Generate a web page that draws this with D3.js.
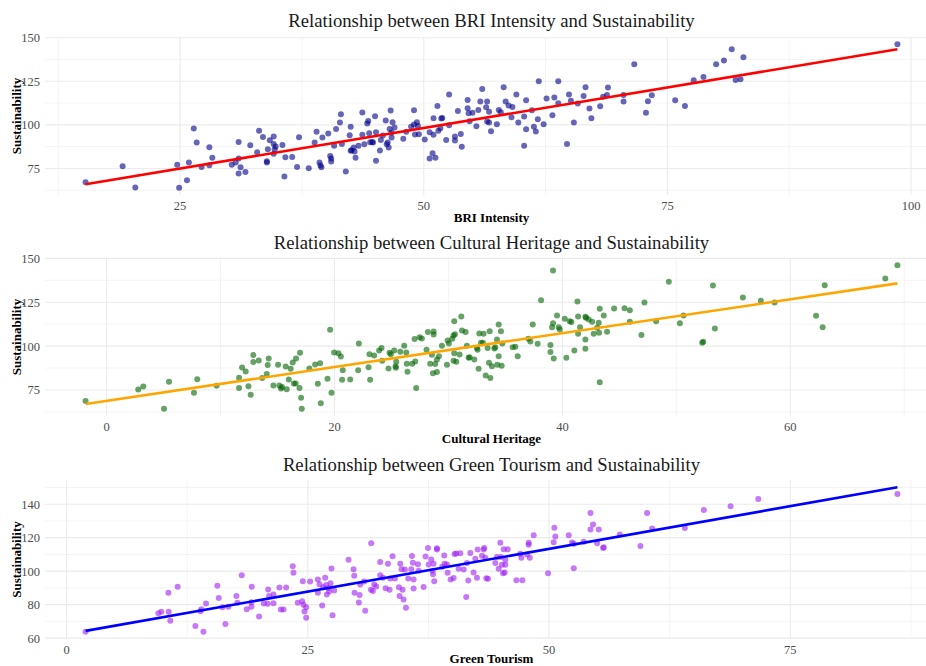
<!DOCTYPE html>
<html>
<head>
<meta charset="utf-8">
<script src="https://cdn.jsdelivr.net/npm/d3@7"></script>
<style>
  body { margin: 0; background: #fff; }
  svg { display: block; }
  text { font-family: "Liberation Serif", "Times New Roman", serif; }
</style>
</head>
<body>
<svg id="chart" width="926" height="666"></svg>
<script>
// Points: [x, sustainability]
const briPoints = [
  [15.3,67.1],[19.1,76.3],[20.4,64.1],[24.7,77.2],[24.9,63.9],[25.7,68.3],[25.9,78.4],[26.4,97.9],[26.7,89.9],[27.2,75.9],
  [28.0,87.2],[28.0,76.9],[28.3,81.1],[30.3,77.1],[30.7,78.4],[31.0,90.2],[31.0,80.7],[31.0,72.1],[31.2,75.7],[31.7,73.0],
  [32.2,88.3],[32.9,84.3],[33.1,96.6],[33.5,93.1],[33.9,79.2],[33.9,78.4],[34.0,86.0],[34.2,91.2],[34.6,93.3],[34.6,89.1],
  [34.6,83.4],[34.7,86.0],[34.8,87.6],[35.5,88.5],[35.7,70.4],[35.8,81.5],[36.5,81.6],[37.0,75.9],[37.2,92.9],[38.2,75.1],
  [38.8,89.9],[39.0,96.0],[39.3,78.4],[39.4,76.7],[39.5,75.7],[39.6,92.7],[40.2,95.0],[40.4,82.2],[40.5,80.7],[40.5,79.0],
  [40.8,88.0],[41.0,97.7],[41.4,101.3],[41.5,106.1],[41.6,89.1],[42.0,73.2],[42.4,94.1],[42.5,98.9],[42.5,85.1],[42.6,85.5],
  [42.8,87.0],[42.9,84.7],[43.0,81.1],[43.3,88.0],[43.7,107.1],[43.7,94.3],[43.9,88.9],[44.2,100.8],[44.3,102.3],[44.4,95.2],
  [44.5,90.1],[44.7,90.2],[44.8,89.9],[45.0,105.0],[45.1,95.8],[45.1,79.4],[45.5,85.3],[45.6,91.4],[45.8,93.9],[46.1,102.5],
  [46.2,88.9],[46.3,89.9],[46.4,87.0],[46.5,97.7],[46.6,108.2],[46.7,92.7],[46.7,95.6],[46.8,101.5],[47.0,98.5],[47.9,92.0],
  [48.2,96.0],[48.7,99.0],[49.0,100.2],[49.0,108.4],[49.1,94.5],[49.3,101.5],[49.4,99.4],[49.5,94.6],[50.1,91.6],[50.6,80.7],
  [50.6,95.8],[50.9,83.7],[51.0,94.3],[51.2,81.1],[51.0,103.8],[51.4,110.9],[51.5,96.7],[51.7,98.1],[51.8,103.6],[51.9,104.0],
  [52.3,91.4],[52.6,99.8],[52.6,117.4],[53.2,93.3],[53.2,91.0],[53.5,108.0],[53.8,94.8],[53.9,87.4],[54.5,114.3],[54.5,109.6],
  [54.6,106.7],[54.7,102.1],[55.0,106.9],[55.4,99.2],[55.6,108.6],[55.8,113.4],[56.0,120.6],[56.4,110.1],[56.5,113.4],[56.7,107.5],
  [56.5,101.9],[56.7,101.3],[56.9,96.4],[57.5,100.4],[57.7,108.6],[57.9,107.3],[58.2,121.6],[58.4,113.4],[58.7,111.1],[59.0,104.4],
  [59.1,110.3],[59.5,117.4],[59.7,101.3],[60.3,104.8],[60.3,88.1],[60.5,114.1],[60.5,97.5],[61.1,108.4],[61.3,99.0],[61.5,96.2],
  [61.7,103.2],[61.8,125.0],[62.3,100.4],[62.6,115.1],[63.2,105.5],[63.4,115.7],[63.8,125.0],[63.8,112.4],[64.7,89.1],[64.9,117.4],
  [65.1,113.8],[65.4,101.3],[65.8,112.2],[66.4,116.6],[66.6,121.6],[67.0,109.4],[67.2,103.8],[68.1,110.7],[68.4,116.1],[68.8,117.2],
  [68.9,121.4],[70.5,117.2],[70.5,113.4],[71.6,134.8],[72.8,106.9],[73.0,113.6],[73.4,117.0],[75.8,114.1],[76.8,110.9],[77.7,125.6],
  [78.7,127.5],[80.0,134.8],[80.8,136.9],[81.6,143.4],[82.0,125.8],[82.5,126.2],[82.8,138.8],[98.6,146.3]
];

const heritagePoints = [
  [-1.84,68.7],[2.78,75.3],[3.22,77.0],[5.04,64.3],[5.48,79.7],[7.67,73.4],[7.96,81.2],[9.66,77.4],[11.63,82.0],[11.63,76.1],
  [11.89,87.9],[12.21,85.6],[12.45,77.2],[12.65,72.3],[12.88,94.9],[12.88,90.9],[13.35,91.8],[13.65,81.8],[14.06,84.1],[14.14,89.2],
  [14.23,93.0],[14.64,77.6],[15.05,89.4],[15.17,77.6],[15.31,75.9],[15.4,76.7],[15.72,88.4],[15.81,75.5],[15.99,81.0],[16.16,87.1],
  [16.34,90.7],[16.43,78.7],[16.6,78.7],[16.63,93.0],[16.93,76.1],[16.98,96.2],[17.07,70.6],[17.13,64.3],[17.8,87.3],[18.3,89.6],
  [18.54,78.6],[18.8,67.4],[18.74,90.3],[19.39,81.4],[19.62,109.3],[19.74,73.4],[19.97,96.4],[20.35,96.0],[20.56,94.1],[20.73,86.2],
  [20.67,80.8],[21.38,81.0],[22.08,86.2],[22.14,101.5],[22.99,88.0],[23.07,95.4],[23.13,80.8],[23.48,94.7],[23.92,97.5],[24.13,98.9],
  [24.19,91.7],[24.74,87.3],[24.83,96.2],[24.95,95.4],[25.24,97.5],[25.42,91.1],[25.36,88.6],[25.39,87.7],[25.77,96.8],[26.12,100.2],
  [26.3,96.4],[26.35,90.0],[26.41,85.4],[26.82,90.0],[27.03,104.0],[27.09,91.3],[27.17,76.1],[27.47,105.0],[27.67,104.4],[28.08,97.9],
  [28.2,108.0],[28.4,90.0],[28.55,95.1],[28.64,84.6],[28.7,108.3],[28.7,106.6],[28.84,89.8],[28.99,85.2],[28.99,92.4],[29.17,94.3],
  [29.43,100.2],[29.87,89.4],[29.93,103.2],[30.04,101.5],[30.34,104.2],[30.45,106.1],[30.51,114.2],[30.57,106.8],[30.51,96.0],[30.45,91.7],
  [30.69,91.1],[30.98,95.3],[31.13,116.9],[31.19,108.9],[31.51,108.0],[31.62,100.2],[31.77,93.4],[31.86,93.7],[32.27,92.4],[32.65,87.1],
  [32.71,107.2],[33.09,107.0],[32.5,99.0],[32.56,97.9],[32.86,101.9],[33.03,101.9],[33.44,99.0],[33.62,108.5],[34.03,98.7],[34.11,99.4],
  [34.26,103.8],[34.41,112.3],[34.61,108.5],[34.73,101.5],[33.56,90.5],[33.82,88.6],[34.29,89.4],[34.67,88.8],[33.27,83.3],[33.68,81.8],
  [34.41,94.3],[35.64,99.4],[35.87,99.6],[36.08,94.3],[37.01,104.2],[37.19,102.7],[37.4,112.3],[37.83,101.3],[38.13,126.2],[38.95,100.6],
  [38.95,96.6],[39.18,143.1],[39.09,110.8],[39.18,113.1],[39.24,93.0],[39.53,117.5],[39.68,110.8],[39.77,109.5],[40.21,115.6],[40.35,93.4],
  [40.64,114.2],[40.79,113.7],[41.05,97.5],[41.32,125.4],[41.38,116.9],[41.38,107.0],[41.55,110.8],[42.02,116.7],[42.08,116.1],[42.02,103.8],
  [42.02,98.5],[42.31,115.2],[42.61,113.9],[42.75,107.0],[43.05,110.4],[43.19,113.3],[43.28,121.3],[43.22,107.6],[43.63,117.5],[43.28,79.5],
  [43.92,108.2],[44.54,121.4],[45.45,121.6],[45.92,120.5],[45.92,113.9],[46.94,106.3],[47.2,124.9],[48.23,114.2],[49.34,136.6],[50.31,113.1],
  [50.63,117.5],[52.27,101.9],[52.36,102.5],[53.21,134.5],[53.38,110.1],[55.84,127.7],[57.42,125.8],[58.62,124.9],[62.26,117.3],[62.84,110.8],
  [63.02,134.7],[68.34,138.5],[69.4,146.1]
];

const greenPoints = [
  [1.97,63.8],[9.51,74.9],[9.82,75.7],[10.55,87.1],[10.58,75.7],[10.75,70.4],[11.51,90.7],[13.35,67.2],[13.87,76.1],[13.97,77.3],
  [14.18,63.8],[14.45,80.7],[15.63,91.3],[15.77,83.9],[16.15,78.5],[16.46,68.4],[16.77,78.7],[17.6,85.1],[17.7,81.1],[18.15,97.6],
  [18.67,77.3],[19.16,81.5],[19.19,90.7],[19.16,78.7],[19.95,72.9],[20.44,80.7],[20.85,80.5],[20.89,89.1],[20.99,85.1],[21.44,86.1],
  [21.44,80.9],[22.06,90.3],[22.2,77.1],[22.48,77.1],[22.75,90.3],[23.44,103.0],[23.51,99.0],[23.96,81.1],[24.41,82.1],[24.48,94.0],
  [24.55,79.9],[24.65,75.9],[24.83,72.2],[24.83,78.5],[25.24,93.8],[26.04,95.0],[26.04,87.1],[26.21,92.2],[26.49,79.5],[26.59,90.4],
  [26.8,96.0],[26.9,91.8],[26.97,86.1],[27.11,90.0],[27.21,87.9],[27.35,92.8],[27.45,101.6],[27.56,73.6],[27.73,88.5],[29.22,106.8],
  [29.74,101.2],[29.81,97.2],[29.84,87.1],[30.29,81.3],[30.36,85.7],[30.43,92.1],[30.84,93.8],[30.95,76.3],[31.57,116.7],[31.54,88.9],
  [31.74,88.1],[31.88,92.1],[32.09,90.9],[32.5,105.4],[32.5,97.6],[32.78,96.0],[33.06,89.8],[33.3,104.4],[33.47,88.9],[33.54,95.6],
  [33.78,108.9],[34.02,95.6],[34.44,90.4],[34.51,85.1],[34.58,104.4],[34.72,101.2],[34.82,88.9],[34.92,83.1],[35.06,101.0],[35.17,78.1],
  [35.41,95.6],[35.72,101.2],[35.79,109.1],[35.89,105.0],[35.96,95.0],[35.96,89.7],[36.41,104.2],[36.48,100.2],[37.0,90.5],[37.2,108.7],
  [37.45,113.9],[37.52,104.0],[37.79,107.0],[37.93,100.2],[37.97,98.2],[38.1,94.0],[38.03,104.4],[38.38,113.7],[38.38,112.9],[38.93,102.6],
  [39.14,109.3],[39.18,104.4],[39.49,99.0],[39.8,95.0],[39.42,104.0],[40.11,95.9],[40.21,110.3],[40.39,110.5],[40.63,101.4],[40.8,110.7],
  [41.15,101.0],[41.42,84.5],[41.49,104.8],[41.84,110.9],[41.63,94.4],[42.18,99.2],[42.36,107.4],[42.53,96.0],[42.6,112.9],[43.05,109.2],
  [43.22,112.9],[43.29,113.9],[43.39,108.0],[43.5,95.8],[43.67,95.4],[44.43,104.8],[44.6,108.4],[44.78,101.4],[44.95,116.9],[45.02,108.4],
  [45.12,103.8],[45.23,98.8],[45.3,113.1],[45.4,99.2],[45.47,103.8],[45.47,106.8],[45.71,113.1],[46.61,94.6],[47.02,110.4],[47.13,108.0],
  [47.23,94.6],[47.72,110.0],[47.89,116.9],[47.89,115.7],[48.0,108.0],[48.41,121.5],[49.89,98.8],[50.48,117.3],[50.55,126.0],[50.65,120.7],
  [52.04,121.5],[52.38,117.1],[52.56,101.8],[52.56,116.3],[53.59,117.5],[54.29,134.8],[54.29,124.9],[54.56,127.8],[54.98,116.7],[55.15,124.9],
  [55.6,113.9],[55.67,114.3],[57.33,121.9],[59.47,115.1],[60.16,134.8],[60.68,125.5],[64.07,125.8],[66.04,136.6],[68.81,138.8],[71.68,143.1],
  [86.1,146.1]
];

// Axis breaks
const briXTicks = [25, 50, 75, 100];
const briXMinor = [12.5, 37.5, 62.5, 87.5];
const heritageXTicks = [0, 20, 40, 60];
const heritageXMinor = [10, 30, 50, 70];
const greenXTicks = [0, 25, 50, 75];
const greenXMinor = [12.5, 37.5, 62.5, 87.5];
const sustYTicks = [75, 100, 125, 150];
const sustYMinor = [62.5, 87.5, 112.5, 137.5];
const greenYTicks = [60, 80, 100, 120, 140];
const greenYMinor = [70, 90, 110, 130, 150];

const panels = [
  { title: "Relationship between BRI Intensity and Sustainability", xLabel: "BRI Intensity",
    points: briPoints, xTicks: briXTicks, xMinor: briXMinor, yTicks: sustYTicks, yMinor: sustYMinor,
    dot: "#00008b", line: "red", top: 37, bottom: 195, titleY: 27, labelY: 221.5 },
  { title: "Relationship between Cultural Heritage and Sustainability", xLabel: "Cultural Heritage",
    points: heritagePoints, xTicks: heritageXTicks, xMinor: heritageXMinor, yTicks: sustYTicks, yMinor: sustYMinor,
    dot: "#006400", line: "orange", top: 258, bottom: 416, titleY: 249, labelY: 443 },
  { title: "Relationship between Green Tourism and Sustainability", xLabel: "Green Tourism",
    points: greenPoints, xTicks: greenXTicks, xMinor: greenXMinor, yTicks: greenYTicks, yMinor: greenYMinor,
    dot: "#a020f0", line: "blue", top: 480, bottom: 639, titleY: 471, labelY: 663 }
];

const left = 45, right = 938;
const svg = d3.select("#chart");

// simple least squares, like geom_smooth(method = "lm")
function fitLine(pts) {
  const mx = d3.mean(pts, d => d[0]), my = d3.mean(pts, d => d[1]);
  const sxy = d3.sum(pts, d => (d[0] - mx) * (d[1] - my));
  const sxx = d3.sum(pts, d => (d[0] - mx) ** 2);
  const b = sxy / sxx, a = my - b * mx;
  const xs = d3.extent(pts, d => d[0]);
  return xs.map(x => [x, a + b * x]);
}

function expand(ext) {
  const pad = (ext[1] - ext[0]) * 0.05;
  return [ext[0] - pad, ext[1] + pad];
}

panels.forEach(p => {
  const fit = fitLine(p.points);
  const xDom = expand(d3.extent(p.points, d => d[0]));
  const yDom = expand(d3.extent(p.points.concat(fit), d => d[1]));
  const x = d3.scaleLinear().domain(xDom).range([left, right]);
  const y = d3.scaleLinear().domain(yDom).range([p.bottom, p.top]);
  const g = svg.append("g");

  const inY = v => v >= yDom[0] && v <= yDom[1];
  const inX = v => v >= xDom[0] && v <= xDom[1];

  // grid
  g.selectAll(".hmin").data(p.yMinor.filter(inY)).join("line")
    .attr("x1", left).attr("x2", right).attr("y1", d => y(d)).attr("y2", d => y(d))
    .attr("stroke", "#ededed").attr("stroke-width", 0.6);
  g.selectAll(".vmin").data(p.xMinor.filter(inX)).join("line")
    .attr("y1", p.top).attr("y2", p.bottom).attr("x1", d => x(d)).attr("x2", d => x(d))
    .attr("stroke", "#ededed").attr("stroke-width", 0.6);
  g.selectAll(".hmaj").data(p.yTicks.filter(inY)).join("line")
    .attr("x1", left).attr("x2", right).attr("y1", d => y(d)).attr("y2", d => y(d))
    .attr("stroke", "#ebebeb").attr("stroke-width", 1.1);
  g.selectAll(".vmaj").data(p.xTicks.filter(inX)).join("line")
    .attr("y1", p.top).attr("y2", p.bottom).attr("x1", d => x(d)).attr("x2", d => x(d))
    .attr("stroke", "#ebebeb").attr("stroke-width", 1.1);

  // points
  g.selectAll("circle").data(p.points).join("circle")
    .attr("cx", d => x(d[0])).attr("cy", d => y(d[1])).attr("r", 3)
    .attr("fill", p.dot).attr("fill-opacity", 0.6);

  // regression line
  g.append("path").datum(fit)
    .attr("d", d3.line().x(d => x(d[0])).y(d => y(d[1])))
    .attr("fill", "none").attr("stroke", p.line).attr("stroke-width", 2.6);

  // tick labels
  g.selectAll(".xt").data(p.xTicks.filter(inX)).join("text")
    .attr("x", d => x(d)).attr("y", p.bottom + 15)
    .attr("text-anchor", "middle").attr("font-size", 12.5).attr("fill", "#4d4d4d")
    .text(d => d);
  g.selectAll(".yt").data(p.yTicks.filter(inY)).join("text")
    .attr("x", 40).attr("y", d => y(d)).attr("dy", "0.35em")
    .attr("text-anchor", "end").attr("font-size", 12.5).attr("fill", "#4d4d4d")
    .text(d => d);

  // titles
  g.append("text").attr("x", (left + right) / 2).attr("y", p.titleY)
    .attr("text-anchor", "middle").attr("font-size", 18.7).attr("fill", "#1a1a1a")
    .text(p.title);
  g.append("text").attr("x", (left + right) / 2).attr("y", p.labelY)
    .attr("text-anchor", "middle").attr("font-size", 13).attr("font-weight", "bold")
    .text(p.xLabel);
  g.append("text")
    .attr("transform", `translate(21,${(p.top + p.bottom) / 2}) rotate(-90)`)
    .attr("text-anchor", "middle").attr("font-size", 13).attr("font-weight", "bold")
    .text("Sustainability");
});
</script>
</body>
</html>
